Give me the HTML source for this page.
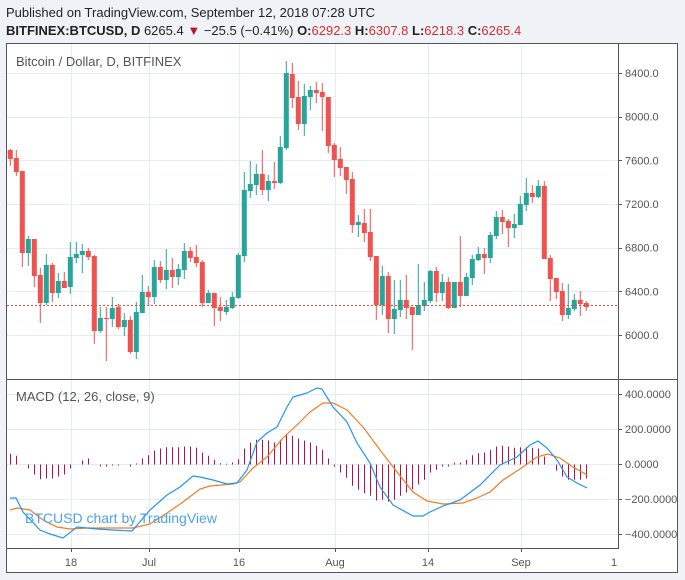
<!DOCTYPE html>
<html><head><meta charset="utf-8"><style>
html,body{margin:0;padding:0;background:#eff3f7;}
body{width:685px;height:580px;overflow:hidden;font-family:"Liberation Sans",sans-serif;}
svg{display:block}
</style></head><body>
<svg id="s" width="685" height="580" xmlns="http://www.w3.org/2000/svg" font-family="Liberation Sans, sans-serif">
<rect x="0" y="0" width="685" height="580" fill="#eff3f7"/>
<text x="6" y="17" font-size="13" fill="#222">Published on TradingView.com, September 12, 2018 07:28 UTC</text>
<text x="6" y="35" font-size="13" fill="#222"><tspan font-weight="bold">BITFINEX:BTCUSD, D</tspan> 6265.4 <tspan fill="#b71c1c">▼</tspan> −25.5 (−0.41%) <tspan font-weight="bold">O:</tspan><tspan fill="#d32f2f">6292.3</tspan> <tspan font-weight="bold">H:</tspan><tspan fill="#d32f2f">6307.8</tspan> <tspan font-weight="bold">L:</tspan><tspan fill="#d32f2f">6218.3</tspan> <tspan font-weight="bold">C:</tspan><tspan fill="#d32f2f">6265.4</tspan></text>
<rect x="6.5" y="43.5" width="671" height="529" fill="#fff" stroke="#555" stroke-width="1"/>
<g id="grid" stroke="#e4ebf2" stroke-width="1"></g>
<g id="cand"></g>
<line x1="7" y1="305.5" x2="618" y2="305.5" stroke="#f44336" stroke-width="1" stroke-dasharray="2,2"/>
<text x="16" y="66" font-size="13" fill="#555">Bitcoin / Dollar, D, BITFINEX</text>
<text x="16" y="401" font-size="13" fill="#555">MACD (12, 26, close, 9)</text>
<g id="macd"></g>
<text x="25" y="523" font-size="14" fill="#4ca3ec">BTCUSD chart by TradingView</text>
<line x1="618.5" y1="43" x2="618.5" y2="549" stroke="#555"/>
<line x1="7" y1="379.5" x2="678" y2="379.5" stroke="#555"/>
<line x1="7" y1="548.5" x2="618" y2="548.5" stroke="#555"/>
<g id="ax" font-size="11" fill="#555"></g>
</svg>
<script>
var NS="http://www.w3.org/2000/svg";
function el(p,t,a,txt){var e=document.createElementNS(NS,t);for(var k in a)e.setAttribute(k,a[k]);if(txt!=null)e.textContent=txt;document.getElementById(p).appendChild(e);return e;}
[71,149,239,335,428,521].forEach(function(x){el('grid','line',{x1:x+.5,y1:44,x2:x+.5,y2:379});el('grid','line',{x1:x+.5,y1:380,x2:x+.5,y2:548});
 el('ax','line',{x1:x+.5,y1:548,x2:x+.5,y2:552,stroke:'#555'});});
var py=[[8400,73],[8000,116.7],[7600,160.3],[7200,204],[6800,247.7],[6400,291.3],[6000,335]];
py.forEach(function(p){el('grid','line',{x1:7,y1:Math.round(p[1])+.5,x2:618,y2:Math.round(p[1])+.5});
 el('ax','line',{x1:618,y1:Math.round(p[1])+.5,x2:622,y2:Math.round(p[1])+.5,stroke:'#555'});
 el('ax','text',{x:625,y:p[1]+4},p[0].toFixed(1));});
var my=[[400,394],[200,429],[0,464],[-200,499],[-400,534]];
my.forEach(function(p){el('grid','line',{x1:7,y1:p[1]+.5,x2:618,y2:p[1]+.5});
 el('ax','line',{x1:618,y1:p[1]+.5,x2:622,y2:p[1]+.5,stroke:'#555'});
 var s=p[0]<0?('−'+(-p[0]).toFixed(4)):p[0].toFixed(4);
 el('ax','text',{x:625,y:p[1]+4},s);});
[["18",71],["Jul",149],["16",239],["Aug",335],["14",428],["Sep",521],["1",614]].forEach(function(t){el('ax','text',{x:t[1],y:566,'text-anchor':'middle'},t[0]);});
var C=[[150,159,149,166,'r'],[158,172,150,176,'r'],[171,253,171,267,'r'],[239,253,236,266,'g'],[239,276,239,287,'r'],[275,303,268,323,'r'],[265,303,254,305,'g'],[265,293,263,302,'r'],[281,293,273,298,'g'],[281,288,272,288,'r'],
[257,287,242,294,'g'],[254,258,242,263,'g'],[251,255,244,273,'g'],[251,257,248,260,'r'],[256,331,255,344,'r'],[318,331,307,333,'g'],[318,319,307,361,'r'],[308,319,297,327,'g'],[307,327,304,329,'r'],[320,327,313,336,'g'],
[320,352,316,354,'r'],[312,352,302,359,'g'],[292,313,275,313,'g'],[292,297,286,306,'r'],[267,297,260,304,'g'],[267,280,261,283,'r'],[270,280,249,289,'g'],[270,277,258,288,'r'],[269,277,264,285,'g'],[251,270,243,279,'g'],
[251,258,247,262,'r'],[257,263,245,267,'r'],[262,303,260,307,'r'],[293,303,290,303,'g'],[293,308,293,326,'r'],[307,311,297,321,'r'],[307,312,300,315,'g'],[297,308,292,309,'g'],[255,298,253,299,'g'],[190,256,172,262,'g'],
[184,191,161,198,'g'],[174,185,164,195,'g'],[174,190,150,195,'r'],[181,190,175,201,'g'],[181,183,162,189,'r'],[147,183,136,184,'g'],[73,148,61,150,'g'],[74,98,63,108,'r'],[97,124,81,130,'r'],[96,124,84,136,'g'],
[90,97,86,110,'g'],[90,93,82,103,'r'],[92,97,83,131,'r'],[97,146,97,153,'r'],[145,160,143,177,'r'],[159,168,147,176,'r'],[167,180,167,194,'r'],[179,225,172,233,'r'],[222,225,215,237,'g'],[223,233,209,242,'r'],
[232,257,209,261,'r'],[256,305,256,320,'r'],[276,305,266,315,'g'],[276,319,272,333,'r'],[309,319,280,334,'g'],[300,310,280,317,'g'],[300,308,275,319,'r'],[307,315,307,350,'r'],[305,315,264,315,'g'],[300,306,282,311,'g'],
[271,301,270,303,'g'],[271,293,267,302,'r'],[282,293,274,301,'g'],[282,308,277,309,'r'],[282,308,282,308,'g'],[282,296,236,307,'r'],[277,296,273,296,'g'],[259,278,255,285,'g'],[254,260,247,261,'g'],[254,258,248,274,'r'],
[235,258,232,263,'g'],[217,236,211,239,'g'],[217,222,210,234,'r'],[221,228,219,247,'r'],[224,228,214,238,'g'],[204,225,196,225,'g'],[193,205,178,211,'g'],[193,197,185,203,'r'],[186,197,180,198,'g'],[186,259,181,259,'r'],
[258,279,255,301,'r'],[278,292,278,299,'r'],[291,315,283,321,'r'],[308,315,284,319,'g'],[300,309,294,311,'g'],[300,304,291,316,'r'],[303,307,301,311,'r']];
C.forEach(function(c,i){var x=10.3+6*i;var col=c[4]=='r'?'#ef5350':'#26a69a';
 el('cand','line',{x1:x.toFixed(1),y1:c[2],x2:x.toFixed(1),y2:c[3],stroke:col,'stroke-width':1});
 el('cand','rect',{x:(x-2.5).toFixed(1),y:c[0],width:5,height:Math.max(1,c[1]-c[0]),fill:col});});
var H=[32,26,0,-12,-30,-44,-42,-42,-36,-30,-12,0,12,18,0,-6,-6,-3,-3,0,-6,3,18,28,42,48,52,52,52,54,54,50,36,26,14,4,2,6,16,48,66,74,74,72,66,74,90,86,78,72,66,56,44,18,-6,-24,-40,-64,-76,-86,-94,-108,-106,-112,-106,-94,-84,-74,-60,-46,-24,-16,-6,-6,6,6,14,28,34,36,44,54,56,54,50,52,52,50,48,24,0,-18,-36,-46,-46,-46,-42];
H.forEach(function(h,i){if(!h)return;var x=Math.round(10.3+6*i)+.5;el('macd','line',{x1:x,y1:464.5,x2:x,y2:(464.5-h/3).toFixed(1),stroke:'#b0124f','stroke-width':1});});
var B=[[10,498],[16,498],[23,512],[40,530],[50,534],[63,538],[77,527],[97,529],[113,530],[132,531],[150,510],[167,495],[180,487],[193,476],[200,477],[213,480],[227,484],[237,483],[247,470],[257,442],[267,433],[277,427],[287,407],[293,397],[300,395],[307,393],[317,388],[322,389],[333,407],[347,422],[357,443],[370,463],[380,487],[393,505],[413,516],[423,516],[430,512],[443,506],[460,500],[480,485],[500,465],[517,457],[530,445],[538,441],[547,448],[557,460],[567,477],[577,483],[587,488]];
var O=[[10,510],[17,508],[30,510],[43,520],[57,527],[70,529],[87,528],[107,528],[133,528],[150,524],[167,513],[183,502],[200,489],[210,486],[233,484],[240,482],[253,468],[267,457],[283,438],[300,422],[310,412],[323,403],[333,403],[347,410],[363,427],[380,450],[397,472],[413,492],[427,501],[443,504],[463,503],[477,498],[490,492],[503,480],[520,469],[537,457],[548,454],[560,458],[573,467],[587,475]];
function pts(a){return a.map(function(p){return p.join(',')}).join(' ');}
el('macd','polyline',{points:pts(O),fill:'none',stroke:'#f57c1f','stroke-width':1.2});
el('macd','polyline',{points:pts(B),fill:'none',stroke:'#2196f3','stroke-width':1.2});
</script>
</body></html>
